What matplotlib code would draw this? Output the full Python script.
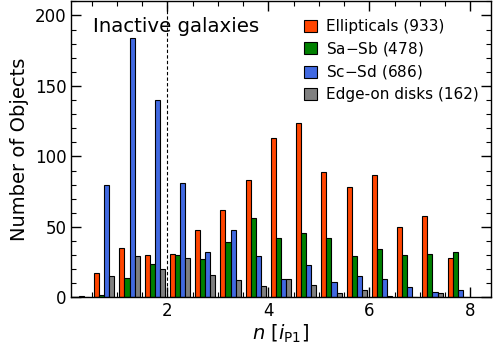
import numpy as np
import matplotlib
matplotlib.use("Agg")
import matplotlib.pyplot as plt
from matplotlib.ticker import MultipleLocator

bin_edges = np.arange(0.0, 8.01, 0.5)
ellipticals = [0, 17, 35, 30, 31, 48, 62, 83, 113, 124, 89, 78, 87, 50, 58, 28]
sa_sb = [0, 2, 14, 24, 30, 27, 39, 56, 42, 46, 42, 29, 34, 30, 31, 32]
sc_sd = [1, 80, 184, 140, 81, 32, 48, 29, 13, 23, 11, 15, 13, 7, 4, 5]
edge_on = [0, 15, 29, 20, 28, 16, 12, 8, 13, 9, 3, 5, 1, 0, 3, 0]
labels = ["Ellipticals (933)", "Sa$-$Sb (478)", "Sc$-$Sd (686)", "Edge-on disks (162)"]
colors = ["#FF4500", "#008000", "#4169E1", "#808080"]

centers = 0.5 * (bin_edges[:-1] + bin_edges[1:])

fig = plt.figure(figsize=(4.93, 3.49), dpi=100)
ax = fig.add_axes([0.145, 0.148, 0.85, 0.848])

ax.hist([centers] * 4, bins=bin_edges,
        weights=[ellipticals, sa_sb, sc_sd, edge_on],
        color=colors, edgecolor="black", linewidth=0.8, label=labels)

ax.axvline(2.0, color="black", linestyle="--", linewidth=0.8, dashes=(3, 2))

ax.set_xlim(0.1, 8.4)
ax.set_ylim(0, 210)
ax.xaxis.set_major_locator(MultipleLocator(2))
ax.xaxis.set_minor_locator(MultipleLocator(0.5))
ax.yaxis.set_major_locator(MultipleLocator(50))
ax.yaxis.set_minor_locator(MultipleLocator(10))
ax.tick_params(which="both", direction="in", top=True, right=True, labelsize=12)
ax.tick_params(which="major", length=7, width=1)
ax.tick_params(which="minor", length=3.5, width=0.8)
for s in ax.spines.values():
    s.set_linewidth(1)

ax.set_xlabel(r"$n\ [i_{\rm P1}]$", fontsize=14, labelpad=2)
ax.set_ylabel("Number of Objects", fontsize=14, labelpad=4)

ax.text(0.052, 0.915, "Inactive galaxies", transform=ax.transAxes, fontsize=14.2,
        ha="left", va="center")

ax.legend(loc="upper right", frameon=False, fontsize=11, handlelength=0.8,
          handleheight=0.8, handletextpad=0.6, labelspacing=0.36,
          bbox_to_anchor=(0.997, 0.975), borderaxespad=0.3)

fig.savefig("out.png", dpi=100)
